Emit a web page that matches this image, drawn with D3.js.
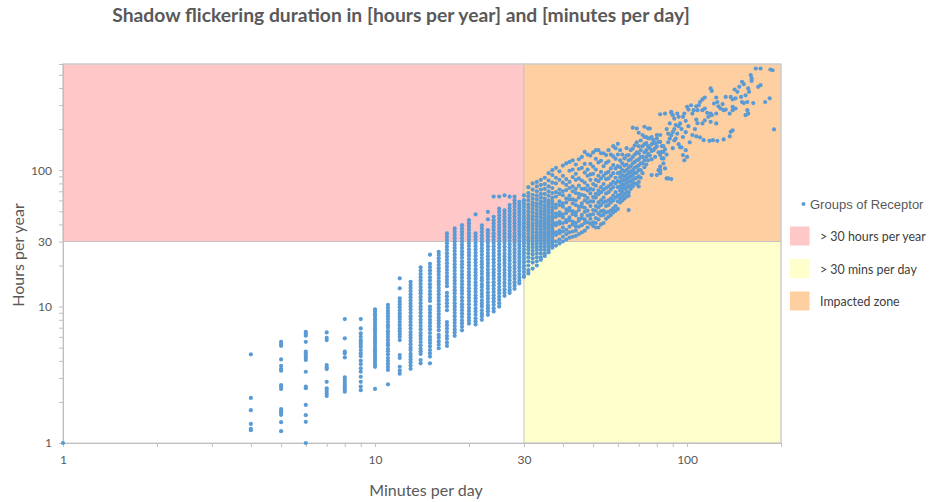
<!DOCTYPE html>
<html>
<head>
<meta charset="utf-8">
<script src="https://cdn.jsdelivr.net/npm/d3@7"></script>
<style>
  body { margin: 0; background: #fff; }
  svg { display: block; }
  .axis path, .axis line { stroke: #bfbfbf; }
  .axis text { fill: #595959; font-family: Lato, "Open Sans", sans-serif; font-size: 12px; }
</style>
</head>
<body>
<svg id="chart" width="936" height="502"></svg>
<script>
// Labelled ticks on both log axes
const minuteTickLabels = [1, 10, 30, 100];
const hourTickLabels = [1, 10, 30, 100];

// Axis extents and thresholds
const minuteDomain = [1, 200];
const hourDomain = [1, 600];
const thresholdMinutes = 30;
const thresholdHours = 30;

const titleText = "Shadow flickering duration in [hours per year] and [minutes per day]";
const xTitle = "Minutes per day";
const yTitle = "Hours per year";
const seriesName = "Groups of Receptor";
const zoneNames = ["> 30 hours per year", "> 30 mins per day", "Impacted zone"];

// Receptor groups: shadow minutes per day, and the hours per year of every group at that value
const minutesPerDay = [
  1, 4, 5, 6, 7, 8, 9, 10, 11, 12, 13, 14, 15, 16, 17, 18, 19, 20,
  21, 22, 23, 24, 25, 26, 27, 28, 29, 30,
  31, 32, 33, 34, 35, 36, 37, 38, 39, 40, 41, 42, 43, 44,
  45, 46, 47, 48, 49, 50, 51, 52, 53, 54, 55, 56, 57, 58, 59, 60,
  61, 62, 63, 64, 65, 66, 67, 68, 69, 70, 71, 72, 73, 74, 75, 76, 77, 78, 79, 80,
  81, 82, 83, 84, 85, 86, 87, 88, 89, 90, 91, 92, 93, 94, 95, 96, 97, 98, 99, 100,
  101, 102, 103, 104, 105, 106, 107, 108, 109, 110, 112, 113, 114, 116, 117, 118, 119, 120,
  121, 122, 124, 125, 126, 128, 130, 131, 133, 137, 138, 140, 142, 143, 145, 147, 149, 150,
  152, 154, 156, 157, 158, 160, 161, 163, 166, 169, 172, 178, 184, 185, 188, 190
];

const hoursPerYear = [
  [1],
  [4.47, 2.14, 1.74, 1.38, 1.27, 1.24],
  [5.52, 5.31, 5.16, 4.10, 3.67, 3.48, 3.39, 2.66, 2.59, 2.49, 1.77, 1.71, 1.66, 1.61, 1.42, 1.22],
  [6.54, 6.36, 6.11, 5.52, 4.67, 4.54, 4.36, 4.22, 4.06, 3.33, 2.59, 2.52, 1.90, 1.60, 1.43, 1.0],
  [6.47, 5.91, 5.68, 3.73, 3.58, 3.48, 2.81, 2.52, 2.42, 2.31, 2.21],
  [8.10, 5.85, 4.67, 4.54, 4.24, 3.03, 2.90, 2.77, 2.66, 2.56, 2.47, 2.38],
  [8.10, 6.92, 6.36, 6.01, 5.68, 5.52, 5.31, 5.08, 4.80, 4.54, 4.34, 4.01, 3.79, 3.53, 3.33, 3.06, 2.81, 2.59, 2.44],
  [9.54, 9.16, 8.77, 8.42, 8.06, 7.74, 7.44, 7.11, 6.81, 6.54, 6.29, 6.01, 5.75, 5.52, 5.31, 5.07, 4.86, 4.67, 4.49, 4.29, 4.10, 3.94, 3.77, 3.62, 2.49],
  [10.3, 9.8, 9.3, 8.9, 8.5, 8.1, 7.7, 7.3, 7.0, 6.6, 6.3, 6.0, 5.7, 5.4, 5.2, 4.9, 4.7, 4.45, 4.2, 4.0, 3.8, 3.6, 3.43, 2.69],
  [16.1, 13.6, 11.5, 10.9, 10.4, 9.9, 9.4, 8.9, 8.5, 8.1, 7.7, 7.3, 6.9, 6.6, 6.3, 6.0, 5.68, 4.41, 4.2, 3.62, 3.4, 3.22],
  [15.2, 14.4, 13.7, 13.0, 12.3, 11.7, 11.1, 10.5, 10.0, 9.5, 9.0, 8.5, 8.1, 7.7, 7.3, 6.9, 6.5, 6.2, 5.9, 5.6, 5.3, 5.0, 4.8, 4.5, 4.3, 4.1, 3.9, 3.7, 3.5],
  [19.4, 18.3, 17.3, 16.4, 15.5, 14.7, 13.9, 13.2, 12.5, 11.8, 11.2, 10.6, 10.0, 9.5, 9.0, 8.5, 8.0, 7.6, 7.2, 6.8, 6.4, 6.1, 5.8, 5.5, 5.2, 4.9, 4.7, 4.5, 4.06, 3.84],
  [24.0, 20.6, 19.5, 18.4, 17.4, 16.4, 15.5, 14.6, 13.8, 13.0, 12.3, 11.6, 11.0, 10.0, 9.5, 9.0, 8.5, 8.0, 7.6, 7.2, 6.8, 6.4, 6.0, 5.7, 5.4, 5.1, 4.8, 4.55, 4.3, 3.84],
  [25.2, 23.9, 22.6, 21.4, 20.2, 19.1, 18.1, 17.1, 16.2, 15.3, 14.5, 13.7, 13.0, 12.3, 11.6, 11.0, 10.4, 9.8, 9.3, 8.8, 8.3, 7.9, 7.5, 7.1, 6.7, 6.2, 5.9, 5.55, 5.25, 4.95],
  [34.4, 32.5, 30.8, 29.1, 27.5, 26.0, 24.6, 23.3, 22.0, 20.8, 19.7, 18.6, 17.6, 16.6, 15.7, 14.9, 14.1, 12.6, 11.9, 11.2, 10.6, 10.0, 9.4, 7.7, 7.3, 6.9, 6.5, 6.1, 5.8, 5.45, 5.15],
  [37.4, 35.4, 33.5, 31.7, 30.0, 28.4, 26.9, 25.5, 24.1, 22.8, 21.6, 20.4, 19.3, 18.3, 17.3, 16.4, 15.5, 14.7, 13.9, 13.2, 12.5, 11.8, 11.2, 10.6, 10.0, 9.5, 9.0, 8.5, 8.0, 7.6, 7.2, 6.8, 6.45, 6.1],
  [39.5, 37.4, 35.4, 33.5, 31.7, 30.0, 28.4, 26.9, 25.4, 24.1, 22.8, 21.5, 20.4, 19.3, 18.2, 17.2, 16.3, 15.4, 14.6, 13.8, 13.1, 12.4, 11.7, 11.0, 10.4, 9.9, 9.4, 8.9, 8.4, 7.9, 7.5, 7.1, 6.7],
  [43.0, 40.7, 38.5, 36.5, 34.5, 32.7, 31.0, 29.3, 27.8, 26.3, 24.9, 23.6, 22.3, 21.1, 20.0, 18.9, 17.9, 17.0, 16.1, 15.2, 14.4, 13.6, 12.9, 12.2, 11.6, 11.0, 10.4, 9.8, 9.3, 8.8, 8.3, 7.9, 7.5],
  [47.4, 34.4, 32.6, 30.9, 29.2, 27.7, 26.2, 24.8, 23.5, 22.2, 21.0, 19.9, 18.8, 17.8, 16.9, 16.0, 15.1, 14.3, 13.5, 12.8, 12.1, 11.5, 10.9, 10.3, 9.7, 9.2, 8.7, 8.2, 7.8, 7.4],
  [39.4, 37.3, 35.3, 33.4, 31.6, 29.9, 28.3, 26.8, 25.4, 24.0, 22.7, 21.5, 20.4, 19.3, 18.2, 17.3, 16.3, 15.5, 14.6, 13.9, 13.1, 12.4, 11.8, 11.1, 10.5, 10.0, 9.4, 8.9, 8.5, 8.0],
  [49.4, 43.6, 36.3, 34.4, 32.6, 30.8, 29.2, 27.6, 26.1, 24.7, 23.4, 22.1, 20.9, 19.8, 18.7, 17.7, 16.8, 15.9, 15.0, 14.2, 13.5, 12.7, 12.0, 11.4, 10.8, 10.2, 9.7, 9.2, 8.7],
  [64.0, 45.5, 43.0, 40.7, 38.5, 36.5, 34.5, 32.7, 30.9, 29.3, 27.7, 26.2, 24.8, 23.5, 22.2, 21.0, 19.9, 18.8, 17.8, 16.9, 16.0, 15.1, 14.3, 13.5, 12.8, 12.1, 11.5, 10.9, 10.3, 9.7, 9.2],
  [64.0, 52.2, 49.4, 46.7, 44.2, 41.8, 39.6, 37.5, 35.5, 33.6, 31.8, 30.1, 28.5, 27.0, 25.5, 24.1, 22.8, 21.6, 20.4, 19.3, 18.3, 17.3, 16.4, 15.5, 14.7, 13.9, 13.2, 12.5, 11.8, 11.2, 10.6, 10.0],
  [65.4, 50.8, 48.0, 45.4, 43.0, 40.7, 38.5, 36.4, 34.5, 32.6, 30.9, 29.2, 27.6, 26.1, 24.7, 23.4, 22.1, 20.9, 19.8, 18.7, 17.7, 16.8, 15.9, 15.0, 14.2, 13.4, 12.7, 12.0],
  [63.9, 55.5, 52.5, 49.7, 47.0, 44.5, 42.1, 39.8, 37.7, 35.7, 33.8, 32.0, 30.2, 28.6, 27.1, 25.6, 24.2, 22.9, 21.7, 20.5, 19.4, 18.4, 17.4, 16.5, 15.6, 14.7, 13.9, 13.2, 12.6],
  [63.9, 60.2, 57.0, 53.9, 51.0, 48.3, 45.7, 43.2, 40.9, 38.7, 36.6, 34.6, 32.8, 31.0, 29.3, 27.8, 26.3, 24.9, 23.5, 22.3, 21.1, 19.9, 18.9, 17.9, 16.9, 16.0, 15.1, 14.3, 13.5],
  [58.5, 55.4, 52.4, 49.6, 46.9, 44.4, 42.0, 39.7, 37.6, 35.6, 33.7, 31.9, 30.1, 28.5, 27.0, 25.5, 24.2, 22.9, 21.6, 20.5, 19.4, 18.3, 17.3, 16.4, 15.5, 14.8],
  [65.4, 60.2, 57.0, 53.9, 51.0, 48.3, 45.7, 43.2, 40.9, 38.7, 36.6, 34.6, 32.8, 31.0, 29.3, 27.8, 26.3, 24.9, 23.5, 22.3, 21.1, 19.9, 18.9, 17.9, 16.9, 16.5],
  // 31 - 44 minutes
  [75, 68, 64, 60, 56, 53, 50, 47, 44.5, 42, 40, 38, 36, 34, 32, 30.5, 29, 27.5, 26, 24.5, 23, 21.5, 20, 18.5, 17.5],
  [80, 72, 66, 62, 58, 55, 52, 49, 46, 43.5, 41, 39, 37, 35, 33, 31.5, 30, 28.5, 27, 25.5, 24, 22.5, 21, 19],
  [82, 76, 70, 65, 61, 57, 54, 51, 48, 45.5, 43, 41, 39, 37, 35, 33.5, 32, 30.5, 29, 27.5, 26, 24.5, 23, 21.5, 20],
  [85, 78, 72, 67, 63, 59, 56, 53, 50, 47.5, 45, 42.5, 40.5, 38.5, 36.5, 35, 33.5, 32, 30.5, 29, 27.5, 26, 24.5, 23, 22],
  [88, 79, 73, 67, 62, 58.5, 55, 52, 49.5, 47, 44.5, 42.5, 40.5, 38.5, 37, 35, 33.5, 32, 30.5, 29, 27.5, 26, 24.5, 23.5],
  [95, 84, 76, 70, 65, 60, 57, 54, 51, 48.5, 46, 44, 42, 40, 38, 36.5, 35, 33.5, 32, 30.5, 29, 27.5, 26, 25],
  [100, 92, 81, 74, 68, 63, 59.5, 56.5, 53.5, 51, 48.5, 46, 44, 42, 40, 38.5, 37, 35.5, 34, 32.5, 31, 29.5, 28, 27],
  [104, 88, 80, 69, 64, 56, 53, 48, 45.5, 41, 39.5, 35, 33.5, 30, 28],
  [98, 85, 72, 67, 59, 55.5, 49, 46.5, 42, 40.5, 36, 34.5, 31, 29],
  [108, 91, 81, 70, 65.5, 57, 54, 47.5, 45, 41, 38, 35.5, 32.5, 30],
  [112, 86, 78, 71.5, 62, 58, 51.5, 48.5, 43, 41.5, 36.5, 34, 31],
  [115, 99, 82, 74, 65, 61, 53, 50.5, 45, 43, 38.5, 35, 32],
  [118, 101, 89, 76, 70, 61, 57, 50, 47.5, 42, 40, 35.5, 32.5],
  [110, 94, 85, 73, 68, 60, 55.5, 49, 46.5, 41, 38.5, 36, 33],
  // 45 - 60 minutes
  [120, 102, 87, 77, 67, 63, 54, 51, 44, 42.5, 38.5, 34],
  [125, 104, 84, 73, 66, 57, 54, 47, 44.5, 39.5, 35],
  [136, 111, 96, 81, 73, 65, 60, 53, 49.5, 43.5, 41, 36],
  [130, 101, 91, 77, 71, 62.5, 58, 50.5, 46.5, 41.5, 38],
  [128, 111, 93, 85, 73, 67.5, 59, 54.5, 47, 44, 40.5],
  [135, 106, 94, 79, 72, 63.5, 59, 51, 47.5, 41.5, 39],
  [140, 121, 101, 85, 77, 67, 63, 54.5, 50.5, 44.5, 41, 38],
  [140, 114, 91, 83, 71, 66.5, 58, 53.5, 48, 43.5, 38],
  [133, 117, 97, 87, 75, 69, 60, 55.5, 50, 46.5, 40],
  [133, 107, 91, 79, 72, 63, 58, 50.5, 47, 41],
  [129, 113, 95, 86, 74, 67.5, 59, 54.5, 49, 44],
  [140, 116, 97, 87, 76, 69, 60, 55.5, 49.5, 45.5],
  [130, 103, 91, 79, 72, 62, 58, 50.5, 47],
  [150, 126, 109, 95, 82, 75, 65, 60, 52.4, 49],
  [145, 121, 103, 88, 80, 69, 63, 54.5, 50.5],
  [156, 130, 107, 95, 83, 75, 65, 59, 52],
  // 61 - 80 minutes
  [140, 118, 105, 96, 89, 82, 76, 71, 66, 62, 58],
  [130, 112, 100, 92, 85, 79, 74, 69, 64, 60],
  [122, 108, 98, 90, 84, 78, 73, 67, 62],
  [145, 128, 110, 100, 92, 86, 80, 74, 69, 64],
  [129, 118, 104, 95, 88, 82, 76, 69, 65, 51],
  [140, 120, 107, 97, 90, 83, 77, 73],
  [205, 144, 125, 112, 100, 92, 85, 79, 76],
  [152, 130, 115, 104, 95, 87, 80],
  [202, 160, 135, 118, 106, 96, 88, 79],
  [188, 150, 133, 120, 108, 100, 90, 82, 76],
  [165, 140, 125, 112, 100, 88],
  [181, 150, 125, 112, 95],
  [208, 175, 155, 135, 118, 105],
  [175, 158, 140, 125, 110],
  [202, 171, 150, 132, 118],
  [202, 171, 145, 128],
  [175, 155, 138, 120, 92],
  [166, 158, 140],
  [158, 145, 125],
  [181, 171, 150, 92],
  // 81 - 100 minutes
  [161, 135, 100],
  [257, 181, 161, 129, 106, 100, 95],
  [150, 136, 122],
  [150, 136, 122, 112],
  [260, 142, 103],
  [200, 130, 87],
  [185, 160, 87],
  [220, 170],
  [267, 263, 180, 86],
  [253, 190, 145],
  [239, 200, 165],
  [214, 170],
  [260, 185],
  [246, 210, 155],
  [220, 147],
  [200, 147],
  [246, 175, 129],
  [260, 118],
  [230, 190, 140],
  [291, 125],
  // above 100 minutes
  [278, 210], [160], [299], [260, 181], [275], [200], [294, 235, 177], [275, 221], [299], [316, 174],
  [330, 275, 220], [166], [341, 283, 232], [263], [246], [164], [397, 260, 226], [381, 253],
  [166], [308], [341, 260, 220], [316, 164], [294], [283], [305], [275, 168], [344, 278],
  [260, 177], [344, 191], [330, 291, 275, 196], [390], [336, 283], [375], [408], [344], [444, 316],
  [427, 310], [354, 253], [316, 275], [397, 260], [375], [497], [470, 451], [310], [556],
  [408], [556, 420], [316], [336], [547], [540], [199]
];

const zoneColors = ["#ffc8c8", "#ffffcc", "#fdcfa1"];
const dotColor = "#5b9bd5";

const svg = d3.select("#chart");
const x = d3.scaleLog().domain(minuteDomain).range([63, 781]);
const y = d3.scaleLog().domain(hourDomain).range([443, 64]);

// Threshold zones
const zones = [
  { x0: minuteDomain[0], x1: thresholdMinutes, y0: thresholdHours, y1: hourDomain[1], c: zoneColors[0] },
  { x0: thresholdMinutes, x1: minuteDomain[1], y0: hourDomain[0], y1: thresholdHours, c: zoneColors[1] },
  { x0: thresholdMinutes, x1: minuteDomain[1], y0: thresholdHours, y1: hourDomain[1], c: zoneColors[2] }
];
svg.append("g").selectAll("rect").data(zones).join("rect")
  .attr("x", d => x(d.x0))
  .attr("y", d => y(d.y1))
  .attr("width", d => x(d.x1) - x(d.x0))
  .attr("height", d => y(d.y0) - y(d.y1))
  .attr("fill", d => d.c)
  .attr("stroke", "#c4c4c4")
  .attr("stroke-width", 1);

// Plot frame
svg.append("rect")
  .attr("x", x(minuteDomain[0])).attr("y", y(hourDomain[1]))
  .attr("width", x(minuteDomain[1]) - x(minuteDomain[0]))
  .attr("height", y(hourDomain[0]) - y(hourDomain[1]))
  .attr("fill", "none").attr("stroke", "#d0d0d0");

// Axes with minor log ticks
const xAxis = d3.axisBottom(x)
  .tickValues(x.ticks())
  .tickFormat(d => minuteTickLabels.includes(d) ? d : "")
  .tickSize(4).tickPadding(8);
svg.append("g").attr("class", "axis")
  .attr("transform", `translate(0,${y(hourDomain[0])})`)
  .call(xAxis);

const yAxis = d3.axisLeft(y)
  .tickValues(y.ticks())
  .tickFormat(d => hourTickLabels.includes(d) ? d : "")
  .tickSize(4).tickPadding(7);
svg.append("g").attr("class", "axis")
  .attr("transform", `translate(${x(minuteDomain[0])},0)`)
  .call(yAxis);

// Receptor groups
const points = minutesPerDay.flatMap((m, i) => hoursPerYear[i].map(h => ({ m, h })));
svg.append("g").selectAll("circle").data(points).join("circle")
  .attr("cx", d => x(d.m))
  .attr("cy", d => y(d.h))
  .attr("r", 2.1)
  .attr("fill", dotColor);

// Titles
svg.append("text")
  .attr("x", 401).attr("y", 22)
  .attr("text-anchor", "middle")
  .style("font-family", "Lato, 'Open Sans', sans-serif")
  .style("font-weight", "bold")
  .style("font-size", "19.3px")
  .attr("fill", "#595959")
  .text(titleText);

svg.append("text")
  .attr("x", 426).attr("y", 496)
  .attr("text-anchor", "middle")
  .style("font-family", "Lato, 'Open Sans', sans-serif")
  .style("font-size", "16px")
  .attr("fill", "#595959")
  .text(xTitle);

svg.append("text")
  .attr("transform", "translate(24,255) rotate(-90)")
  .attr("text-anchor", "middle")
  .style("font-family", "Lato, 'Open Sans', sans-serif")
  .style("font-size", "16px")
  .attr("fill", "#595959")
  .text(yTitle);

// Legend
const legend = svg.append("g");
legend.append("circle").attr("cx", 803.5).attr("cy", 204).attr("r", 2).attr("fill", dotColor);
legend.append("text")
  .attr("x", 810).attr("y", 208.5)
  .style("font-family", "'Liberation Sans', Arial, sans-serif")
  .style("font-size", "13px")
  .attr("fill", "#595959")
  .text(seriesName);

const legendRows = legend.selectAll("g.zone").data(zoneNames).join("g").attr("class", "zone")
  .attr("transform", (d, i) => `translate(790,${226.5 + i * 32.5})`);
legendRows.append("rect")
  .attr("width", 19.5).attr("height", 19)
  .attr("fill", (d, i) => zoneColors[i]);
legendRows.append("text")
  .attr("x", 30).attr("y", 14.5)
  .style("font-family", "Lato, 'Open Sans', sans-serif")
  .style("font-size", "12.4px")
  .attr("fill", "#404040")
  .text(d => d);
</script>
</body>
</html>
